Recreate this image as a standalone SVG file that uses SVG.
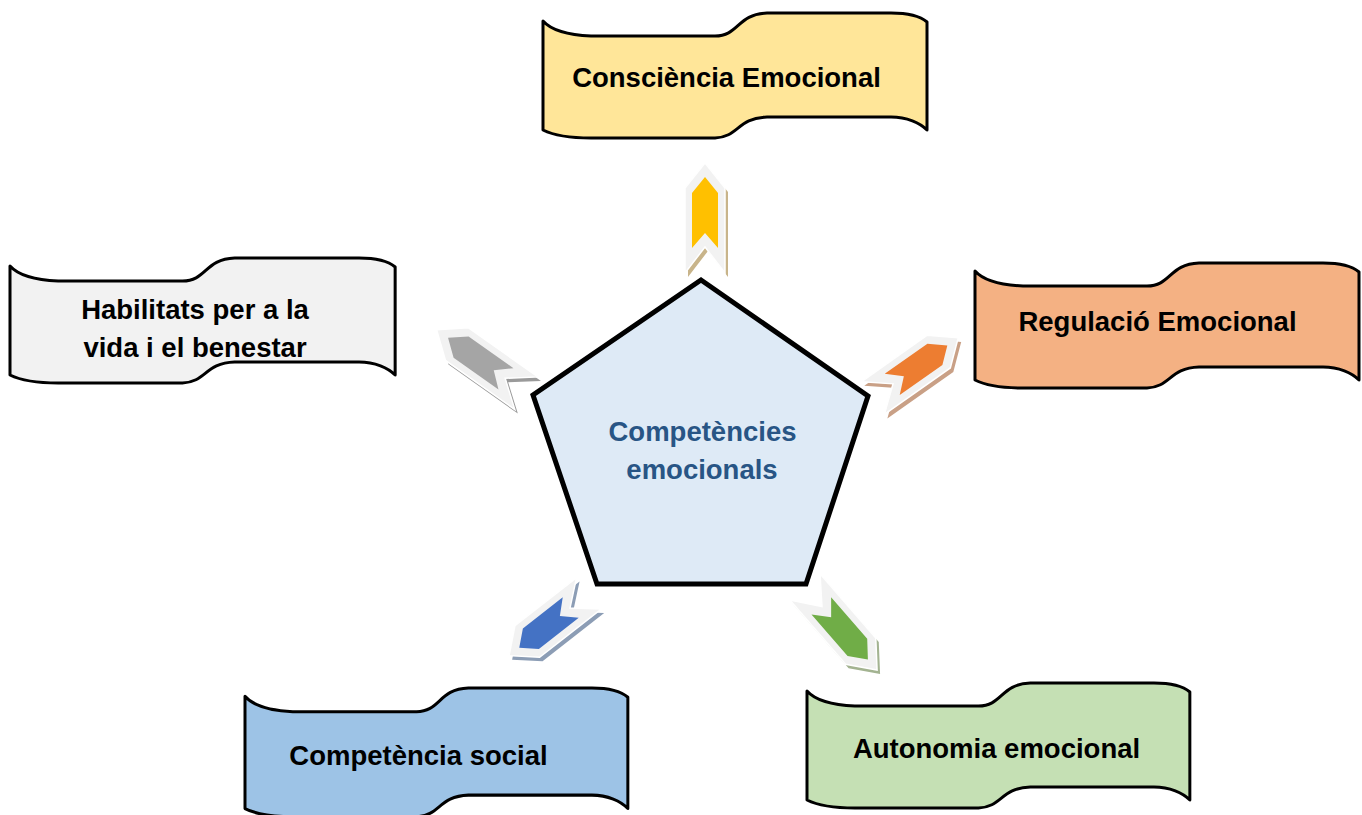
<svg xmlns="http://www.w3.org/2000/svg" width="1362" height="815" viewBox="0 0 1362 815">
<style>
.wave{stroke:#000;stroke-width:3;stroke-linejoin:round}
.lbl{font-family:"Liberation Sans",Arial,sans-serif;font-weight:bold;font-size:27.5px;fill:#000;text-anchor:middle}
.ctr{font-family:"Liberation Sans",Arial,sans-serif;font-weight:bold;font-size:27.5px;fill:#285585;text-anchor:middle}
.aout{fill:#F2F2F2;stroke:#fff;stroke-width:1.5}
</style>
<defs>
<path id="wave" d="M0,8 C8,17 25,22 48,23 L172,23 C196,23 194,1 224,0 L348,0 C364,0 377,3 384,9 L384,117 C377,110 364,104 348,104 L224,104 C194,105 196,124 172,125 L48,125 C25,125 8,121 0,117 Z"/>
<path id="arrOuter" d="M-55,-20 L30,-20 L55,0 L30,20 L-55,20 L-29,0 Z"/>
<path id="arrInner" d="M-30,-13 L25,-13 L41,0 L25,13 L-30,13 L-15,0 Z"/>
</defs>
<rect width="1362" height="815" fill="#fff"/>

<g id="connectors">
  <!-- yellow -->
  <g transform="translate(708,222) rotate(-90)"><use href="#arrOuter" fill="#C8B48A"/></g>
  <g transform="translate(705,218) rotate(-90)"><use href="#arrOuter" class="aout"/><use href="#arrInner" fill="#FFC000"/></g>
  <!-- gray -->
  <g transform="translate(484.5,365.5) rotate(-144.7)"><use href="#arrOuter" fill="#9A9A9A"/></g>
  <g transform="translate(481.5,361.5) rotate(-144.7)"><use href="#arrOuter" class="aout"/><use href="#arrInner" fill="#A5A5A5"/></g>
  <!-- orange -->
  <g transform="translate(918.5,372) rotate(-35.2) scale(0.95,1)"><use href="#arrOuter" fill="#C9A086"/></g>
  <g transform="translate(915.5,368) rotate(-35.2) scale(0.95,1)"><use href="#arrOuter" class="aout"/><use href="#arrInner" fill="#ED7D31"/></g>
  <!-- blue -->
  <g transform="translate(552,628.5) rotate(142) scale(0.92,1)"><use href="#arrOuter" fill="#8C9DB5"/></g>
  <g transform="translate(549,624.5) rotate(142) scale(0.92,1)"><use href="#arrOuter" class="aout"/><use href="#arrInner" fill="#4472C4"/></g>
  <!-- green -->
  <g transform="translate(844,632.5) rotate(49)"><use href="#arrOuter" fill="#A3B391"/></g>
  <g transform="translate(841,628.5) rotate(49)"><use href="#arrOuter" class="aout"/><use href="#arrInner" fill="#70AD47"/></g>
</g>

<g id="center">
  <polygon points="701,280 868,396 806,584 597,584 533,395" fill="#DEEAF6" stroke="#000" stroke-width="5" stroke-linejoin="miter"/>
  <text class="ctr" x="702.5" y="441">Competències</text>
  <text class="ctr" x="702" y="479">emocionals</text>
</g>

<g id="consciencia">
  <use href="#wave" class="wave" fill="#FFE699" transform="translate(543,13)"/>
  <text class="lbl" x="726.5" y="87">Consciència Emocional</text>
</g>

<g id="habilitats">
  <use href="#wave" class="wave" fill="#F2F2F2" transform="translate(10,258) scale(1.003,1)"/>
  <text class="lbl" x="195" y="319">Habilitats per a la</text>
  <text class="lbl" x="195" y="357">vida i el benestar</text>
</g>

<g id="regulacio">
  <use href="#wave" class="wave" fill="#F4B183" transform="translate(975,263)"/>
  <text class="lbl" x="1157.5" y="331">Regulació Emocional</text>
</g>

<g id="social">
  <use href="#wave" class="wave" fill="#9DC3E6" transform="translate(245,688) scale(0.997,1.03)"/>
  <text class="lbl" x="418.5" y="765">Competència social</text>
</g>

<g id="autonomia">
  <use href="#wave" class="wave" fill="#C5E0B4" transform="translate(807,683) scale(0.997,1)"/>
  <text class="lbl" x="996.5" y="758">Autonomia emocional</text>
</g>
</svg>
